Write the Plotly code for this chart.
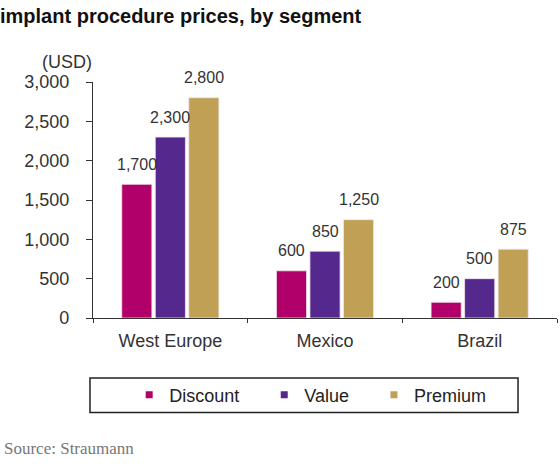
import plotly.graph_objects as go

# data
regions = ["West Europe", "Mexico", "Brazil"]
discount = [1700, 600, 200]
value = [2300, 850, 500]
premium = [2800, 1250, 875]
segments = ["Discount", "Value", "Premium"]
colors = ["#B2006A", "#54288C", "#C0A055"]

W, H = 560, 464
ML, MR, MT, MB = 93, 3, 82, 146
BARGAP = 0.35
slot = (W - ML - MR) / len(regions) * (1 - BARGAP) / len(segments)

fig = go.Figure()
annots = []
for i, (name, vals, col) in enumerate(zip(segments, [discount, value, premium], colors)):
    fig.add_trace(go.Bar(
        x=regions, y=vals, name=name, marker_color=col,
        marker_line=dict(color="#f4e6ef", width=0.8),
        showlegend=False,
    ))
    # small square legend markers
    fig.add_trace(go.Scatter(
        x=[None], y=[None], mode="markers", name=name + "\u00a0" * 4,
        marker=dict(symbol="square", size=7, color=col),
    ))
    for r, v in zip(regions, vals):
        annots.append(dict(
            x=r, y=v, text=f"{v:,}", showarrow=False,
            xshift=(i - 1) * slot, yshift=20, yanchor="middle",
            font=dict(size=16, color="#333"),
        ))

annots += [
    dict(text="(USD)", xref="paper", yref="paper", x=(40 - ML) / (W - ML - MR),
         y=1 + (MT - 50) / (H - MT - MB), showarrow=False,
         font=dict(size=18, color="#333")),
    dict(text="Source: Straumann", xref="paper", yref="paper",
         x=(2 - ML) / (W - ML - MR), xanchor="left", y=-0.555, yanchor="middle",
         showarrow=False,
         font=dict(family="Liberation Serif, Times New Roman", size=17, color="#777")),
]

fig.update_layout(
    width=W, height=H,
    margin=dict(l=ML, r=MR, t=MT, b=MB),
    paper_bgcolor="white", plot_bgcolor="white",
    font=dict(family="Liberation Sans, Arial", color="#333"),
    barmode="group", bargap=BARGAP, bargroupgap=0.1,
    title=dict(text="<b>implant procedure prices, by segment</b>",
               x=0, xanchor="left", y=0.965, yanchor="middle",
               font=dict(size=20, color="#111")),
    legend=dict(orientation="h", x=0.078, xanchor="left", y=-0.326, yanchor="middle",
                font=dict(size=18, color="#222"), bgcolor="rgba(0,0,0,0)"),
    xaxis=dict(showline=True, linecolor="#333", linewidth=1.2,
               ticks="outside", tickson="boundaries", ticklen=4, tickcolor="#333",
               ticklabelstandoff=6,
               tickfont=dict(size=18, color="#333"), showgrid=False),
    yaxis=dict(range=[0, 3000], dtick=500, tickformat=",",
               showline=True, linecolor="#333", linewidth=1.2,
               ticks="outside", ticklen=6, tickcolor="#333",
               ticklabelstandoff=13,
               tickfont=dict(size=18, color="#333"), showgrid=False,
               zeroline=False),
    shapes=[dict(type="rect", xref="paper", yref="paper",
                 x0=-0.0065, x1=0.916, y0=-0.40, y1=-0.254,
                 line=dict(color="#222", width=1.5))],
    annotations=annots,
)

fig.write_html("out.html", config={"displayModeBar": False},
               post_script="document.body.style.margin='0';")
